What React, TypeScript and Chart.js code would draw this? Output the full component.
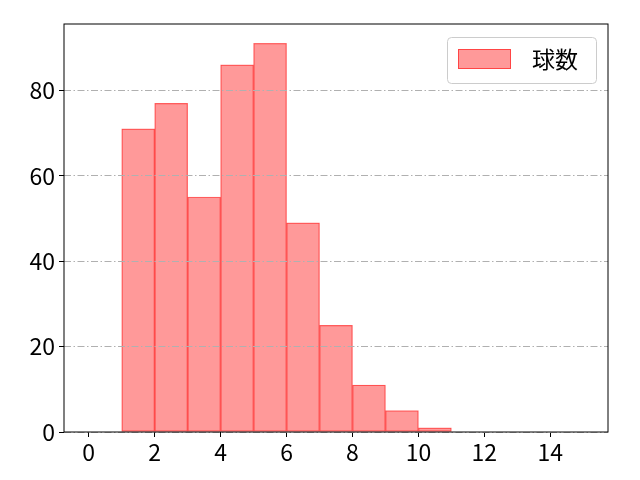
import { useEffect, useRef } from 'react'
import { Chart, registerables } from 'chart.js'

Chart.register(...registerables)

// histogram bins: left edges 0..14, width 1
const BIN_CENTERS = [0.5, 1.5, 2.5, 3.5, 4.5, 5.5, 6.5, 7.5, 8.5, 9.5, 10.5, 11.5, 12.5, 13.5, 14.5]
const COUNTS = [0, 71, 77, 55, 86, 91, 49, 25, 11, 5, 1, 0, 0, 0, 0]
const X_TICKS = [0, 2, 4, 6, 8, 10, 12, 14]
const Y_TICKS = [0, 20, 40, 60, 80]
const SERIES_LABEL = '球数'

const FONT = '"Noto Sans CJK JP", "Noto Sans", sans-serif'
const FONT_SIZE = 23
const FACE = 'rgba(255, 0, 0, 0.4)'
const EDGE = 'rgba(255, 0, 0, 0.55)'

const framePlugin = {
  id: 'frameAndLegend',
  afterDraw(chart: Chart) {
    const { ctx, chartArea } = chart
    ctx.save()
    ctx.strokeStyle = '#000'
    ctx.lineWidth = 1
    ctx.strokeRect(chartArea.left, chartArea.top, chartArea.right - chartArea.left, chartArea.bottom - chartArea.top)

    // legend box, upper right
    const bx = 447
    const by = 37
    const bw = 149
    const bh = 46
    ctx.beginPath()
    ctx.roundRect(bx + 0.5, by + 0.5, bw, bh, 4)
    ctx.fillStyle = 'rgba(255,255,255,0.8)'
    ctx.fill()
    ctx.strokeStyle = '#cccccc'
    ctx.stroke()

    ctx.fillStyle = FACE
    ctx.fillRect(458, 49, 53, 20)
    ctx.strokeStyle = EDGE
    ctx.strokeRect(458.5, 49.5, 52, 19)

    ctx.fillStyle = '#000'
    ctx.font = `${FONT_SIZE}px ${FONT}`
    ctx.textBaseline = 'middle'
    ctx.textAlign = 'left'
    ctx.fillText(chart.data.datasets[0].label as string, 532, 59)
    ctx.restore()
  },
}

export default function App() {
  const canvasRef = useRef<HTMLCanvasElement>(null)
  const chartRef = useRef<Chart | null>(null)

  useEffect(() => {
    document.body.style.margin = '0'
    if (!canvasRef.current) return
    if (chartRef.current) chartRef.current.destroy()

    chartRef.current = new Chart(canvasRef.current, {
      type: 'bar',
      data: {
        datasets: [
          {
            label: SERIES_LABEL,
            data: BIN_CENTERS.map((x, i) => ({ x, y: COUNTS[i] })),
            backgroundColor: FACE,
            borderColor: EDGE,
            borderWidth: 0.6,
            borderSkipped: false,
            barPercentage: 1,
            categoryPercentage: 1,
          },
        ],
      },
      options: {
        responsive: false,
        animation: false,
        layout: { padding: { left: 0, right: 32, top: 24, bottom: 0 } },
        plugins: {
          legend: { display: false },
          tooltip: { enabled: false },
        },
        scales: {
          x: {
            type: 'linear',
            min: -0.75,
            max: 15.75,
            offset: false,
            afterBuildTicks: (scale) => {
              scale.ticks = X_TICKS.map((value) => ({ value }))
            },
            afterFit: (scale) => {
              scale.height = 48
            },
            grid: {
              offset: false,
              drawOnChartArea: false,
              drawTicks: true,
              tickLength: 5,
              tickWidth: 1,
              tickColor: '#000',
            },
            border: { display: false },
            ticks: {
              color: '#000',
              font: { family: FONT, size: FONT_SIZE },
              padding: 1,
              maxRotation: 0,
            },
          },
          y: {
            min: 0,
            max: 95.55,
            afterBuildTicks: (scale) => {
              scale.ticks = Y_TICKS.map((value) => ({ value }))
            },
            afterFit: (scale) => {
              scale.width = 64
            },
            grid: {
              color: '#b0b0b0',
              lineWidth: 1,
              z: 1,
              drawTicks: true,
              tickLength: 5,
              tickWidth: 1,
              tickColor: '#000',
            },
            border: { display: false, dash: [7, 2.5, 1.5, 2.5] },
            ticks: {
              color: '#000',
              font: { family: FONT, size: FONT_SIZE },
              padding: 4,
            },
          },
        },
      },
      plugins: [framePlugin],
    })

    return () => {
      if (chartRef.current) {
        chartRef.current.destroy()
        chartRef.current = null
      }
    }
  }, [])

  return (
    <div style={{ width: 640, height: 480 }}>
      <canvas ref={canvasRef} width={640} height={480} />
    </div>
  )
}
